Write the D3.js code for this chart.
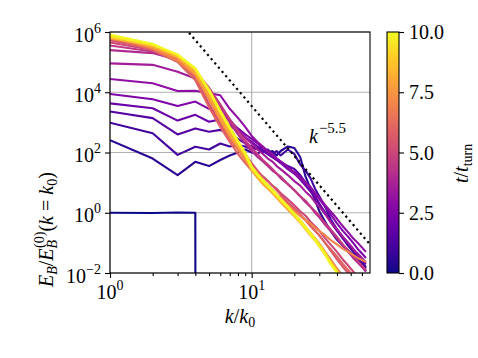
<!DOCTYPE html>
<html><head><meta charset="utf-8">
<script src="https://cdn.jsdelivr.net/npm/d3@7"></script>
<style>
body{margin:0;background:#fff;}
svg text{font-family:"Liberation Serif","DejaVu Serif",serif;}
</style></head>
<body><svg id="chart" width="478" height="358"></svg>
<script>
// wavenumbers k/k0 at which spectra are sampled
const K = [1,2,3,4,5,6,7,8,9,10,11,12,13,14,15,16,18,20,22,24,26,28,30,33,36,40,44,48,52,56,60,64];
// times t/t_turn of each spectrum
const times = [0,0.5,1,1.5,2,2.5,3,3.5,4,4.5,5,5.5,6,6.5,7,7.5,8,8.5,9,9.5,10];
// log10(E_B/E_B^(0)) per time (null = zero power)
const s00 = [0,-0.01,0.01,0,null,null,null,null,null,null,null,null,null,null,null,null,null,null,null,null,null,null,null,null,null,null,null,null,null,null,null,null];
const s05 = [2.41,1.8,1.25,1.69,1.55,1.75,1.9,2.0,2.1,2.0,1.95,2.1,2.0,2.05,1.9,2.05,2.2,2.15,1.85,1.2,0.8,0.42,0.05,-0.3,-0.6,-0.9,-1.1,-1.25,-1.4,-1.55,-1.65,-1.85];
const s10 = [2.99,2.64,1.92,2.19,2.1,2.3,2.2,2.25,2.2,2.1,2.15,2.0,2.1,1.95,2.05,1.9,2.1,1.95,1.6,1.4,1.15,0.8,0.55,0.2,-0.2,-0.55,-0.85,-1.1,-1.3,-1.5,-1.7,-1.95];
const s15 = [3.36,3.14,2.6,2.8,2.69,2.75,2.6,2.45,2.3,2.2,2.1,2.05,1.95,1.85,1.8,1.7,1.55,1.45,1.25,1.0,0.8,0.55,0.3,0.0,-0.3,-0.6,-0.85,-1.05,-1.25,-1.45,-1.6,-1.8];
const s20 = [3.63,3.47,3.06,3.25,3.02,3.1,2.9,2.7,2.5,2.35,2.2,2.1,1.95,1.85,1.75,1.65,1.45,1.3,1.1,0.9,0.7,0.5,0.3,0.0,-0.25,-0.55,-0.8,-1.0,-1.2,-1.4,-1.55,-1.7];
const s25 = [3.94,3.77,3.54,3.69,3.45,3.3,3.05,2.8,2.6,2.45,2.3,2.15,2.0,1.9,1.8,1.7,1.5,1.35,1.2,1.0,0.85,0.65,0.45,0.2,-0.05,-0.35,-0.6,-0.8,-1.0,-1.2,-1.35,-1.5];
const s30 = [4.44,4.3,4.04,4.05,3.97,3.9,3.45,3.15,2.85,2.55,2.35,2.2,2.05,1.95,1.8,1.7,1.5,1.3,1.15,1.0,0.85,0.65,0.5,0.25,0.05,-0.2,-0.45,-0.65,-0.85,-1.0,-1.15,-1.3];
const s35 = [4.96,4.91,4.68,4.46,4.0,3.5,3.1,2.75,2.5,2.3,2.1,1.95,1.8,1.7,1.55,1.45,1.25,1.05,0.9,0.7,0.55,0.35,0.2,-0.05,-0.3,-0.55,-0.8,-1.0,-1.2,-1.35,-1.5,-1.65];
const s40 = [5.4,5.3,5.07,4.75,4.1,3.5,3.0,2.6,2.3,2.05,1.85,1.7,1.55,1.4,1.3,1.15,0.95,0.75,0.55,0.35,0.2,0.0,-0.15,-0.4,-0.6,-0.85,-1.1,-1.3,-1.5,-1.65,-1.8,-1.95];
const s45 = [5.55,5.35,5.05,4.7,4.15,3.6,3.1,2.7,2.4,2.15,1.95,1.75,1.6,1.45,1.3,1.2,0.95,0.75,0.55,0.4,0.2,0.05,-0.1,-0.35,-0.55,-0.8,-1.05,-1.25,-1.45,-1.6,-1.75,-1.9];
const s50 = [5.65,5.4,5.05,4.5,3.6,2.95,2.45,2.1,1.8,1.55,1.35,1.2,1.05,0.9,0.8,0.65,0.45,0.25,0.05,-0.1,-0.3,-0.45,-0.6,-0.85,-1.05,-1.3,-1.55,-1.75,-1.95,-2.1,-2.25,-2.4];
const s55 = [5.72,5.45,5.1,4.6,3.85,3.2,2.7,2.3,1.95,1.65,1.4,1.2,1.05,0.9,0.75,0.6,0.35,0.15,-0.05,-0.25,-0.4,-0.6,-0.75,-1.0,-1.25,-1.55,-1.8,-2.0,-2.2,-2.4,-2.55,-2.7];
const s60 = [5.8,5.4,5.0,4.4,3.5,2.85,2.35,1.95,1.65,1.4,1.2,1.05,0.9,0.75,0.6,0.5,0.3,0.1,-0.1,-0.25,-0.45,-0.6,-0.75,-1.0,-1.2,-1.45,-1.7,-1.9,-2.1,-2.25,-2.4,-2.55];
const s65 = [5.78,5.5,5.15,4.65,3.9,3.2,2.65,2.25,1.9,1.45,1.2,1.0,0.85,0.7,0.55,0.4,0.15,-0.1,-0.3,-0.5,-0.68,-0.85,-1.02,-1.3,-1.55,-1.85,-2.1,-2.35,-2.55,-2.75,-2.95,-3.1];
const s70 = [5.85,5.45,5.05,4.55,3.75,3.05,2.5,2.1,1.75,1.45,1.2,1.0,0.85,0.7,0.55,0.4,0.2,0.05,-0.1,-0.25,-0.35,-0.5,-0.6,-0.75,-0.9,-1.05,-1.2,-1.3,-1.4,-1.5,-1.57,-1.63];
const s75 = [5.82,5.52,5.18,4.7,3.95,3.3,2.75,2.3,1.95,1.5,1.25,1.05,0.88,0.72,0.58,0.45,0.2,-0.05,-0.28,-0.48,-0.68,-0.85,-1.05,-1.32,-1.6,-1.9,-2.2,-2.45,-2.7,-2.9,-3.1,-3.3];
const s80 = [5.88,5.5,5.15,4.62,3.85,3.15,2.6,2.2,1.85,1.4,1.15,0.95,0.8,0.65,0.5,0.35,0.1,-0.12,-0.33,-0.55,-0.75,-0.92,-1.12,-1.4,-1.65,-1.95,-2.25,-2.5,-2.75,-2.95,-3.15,-3.35];
const s85 = [5.8,5.55,5.2,4.72,4.0,3.3,2.75,2.3,1.9,1.45,1.2,1.0,0.85,0.7,0.55,0.4,0.15,-0.1,-0.3,-0.52,-0.72,-0.9,-1.08,-1.35,-1.65,-1.95,-2.25,-2.5,-2.75,-2.95,-3.15,-3.35];
const s90 = [5.9,5.6,5.22,4.75,4.05,3.35,2.8,2.35,1.95,1.5,1.25,1.05,0.9,0.75,0.6,0.45,0.2,-0.05,-0.27,-0.48,-0.68,-0.86,-1.05,-1.33,-1.62,-1.92,-2.22,-2.48,-2.72,-2.95,-3.15,-3.35];
const s95 = [5.85,5.58,5.25,4.78,4.1,3.4,2.85,2.4,2.0,1.55,1.3,1.1,0.92,0.77,0.62,0.47,0.22,-0.03,-0.25,-0.47,-0.67,-0.87,-1.07,-1.37,-1.68,-1.98,-2.28,-2.55,-2.8,-3.0,-3.2,-3.4];
const s100 = [5.92,5.6,5.25,4.8,4.05,3.35,2.8,2.35,1.95,1.5,1.25,1.05,0.88,0.73,0.58,0.43,0.18,-0.07,-0.3,-0.52,-0.72,-0.92,-1.1,-1.4,-1.7,-2.0,-2.3,-2.55,-2.8,-3.0,-3.2,-3.4];
const spectra = [s00,s05,s10,s15,s20,s25,s30,s35,s40,s45,s50,s55,s60,s65,s70,s75,s80,s85,s90,s95,s100];
// reference power law k^-5.5
const fitK = [2, 70];
const fitAmp = 1.1e9, fitSlope = -5.5;
const yTicks = [1e-2,1e0,1e2,1e4,1e6];
const xMajor = [1,10];
const xMinor = [2,3,4,5,6,7,8,9,20,30,40,50,60];
const cbTicks = [0,2.5,5,7.5,10];

const svg = d3.select("#chart");
const L=110, R=370, T=32, B=273;
const x = d3.scaleLog().domain([1,68.4]).range([L,R]);
const y = d3.scaleLog().domain([1e-2,1e6]).range([B,T]);
const color = d3.scaleSequential(d3.interpolatePlasma).domain([0,10]);

svg.append("defs").append("clipPath").attr("id","clip")
  .append("rect").attr("x",L).attr("y",T).attr("width",R-L).attr("height",B-T);

// grid
const grid = svg.append("g").attr("stroke","#b0b0b0").attr("stroke-width",1.1);
yTicks.forEach(v=>grid.append("line").attr("x1",L).attr("x2",R).attr("y1",y(v)).attr("y2",y(v)));
xMajor.forEach(v=>grid.append("line").attr("y1",T).attr("y2",B).attr("x1",x(v)).attr("x2",x(v)));

// spectra
const line = d3.line().x(d=>x(d.k)).y(d=>y(d.e));
const gl = svg.append("g").attr("clip-path","url(#clip)");
spectra.forEach((s,i)=>{
  const pts = K.map((k,j)=>({k:k, e: s[j]===null ? 1e-300 : Math.pow(10,s[j])}));
  gl.append("path").attr("d",line(pts)).attr("fill","none")
    .attr("stroke",color(times[i])).attr("stroke-width",2.1).attr("stroke-linejoin","round");
});
// power law
const fitPts = fitK.map(k=>({k:k, e: fitAmp*Math.pow(k,fitSlope)}));
gl.append("path").attr("d",line(fitPts)).attr("fill","none").attr("stroke","#000")
  .attr("stroke-width",2.2).attr("stroke-dasharray","2.2,3.4");

// axes
const fs = 20;
const xAxis = svg.append("g").attr("transform",`translate(0,${B})`)
  .call(d3.axisBottom(x).tickValues(xMajor).tickSize(5).tickFormat(""));
svg.append("g").attr("transform",`translate(0,${B})`)
  .call(d3.axisBottom(x).tickValues(xMinor).tickSize(3).tickFormat(""))
  .call(g=>g.select(".domain").remove());
const yAxis = svg.append("g").attr("transform",`translate(${L},0)`)
  .call(d3.axisLeft(y).tickValues(yTicks).tickSize(5).tickFormat(""));
[xAxis,yAxis].forEach(g=>g.select(".domain").remove());
svg.selectAll(".tick line").attr("stroke","#000").attr("stroke-width",1.1);

// frame
svg.append("rect").attr("x",L).attr("y",T).attr("width",R-L).attr("height",B-T)
  .attr("fill","none").attr("stroke","#000").attr("stroke-width",1.1);

function powLabel(g, exp, anchorX, baseY, anchor){
  const t = g.append("text").attr("y",baseY).attr("font-size",fs).attr("fill","#000");
  t.append("tspan").text("10");
  t.append("tspan").attr("dy",-9).attr("font-size",fs*0.7).text(exp);
  const w = t.node().getComputedTextLength();
  const x0 = anchor==="middle" ? anchorX - w/2 : anchorX - w;
  t.attr("x",x0);
}
xMajor.forEach(v=>powLabel(svg, String(Math.round(Math.log10(v))), x(v), 299, "middle"));
yTicks.forEach(v=>{
  const e = Math.round(Math.log10(v));
  powLabel(svg, e<0 ? "\u2212"+(-e) : String(e), L-9, y(v)+9.5, "end");
});

// axis labels
const xl = svg.append("text").attr("x",240).attr("y",323).attr("text-anchor","middle").attr("font-size",fs);
xl.append("tspan").attr("font-style","italic").text("k");
xl.append("tspan").text("/");
xl.append("tspan").attr("font-style","italic").text("k");
xl.append("tspan").attr("font-size",fs*0.7).attr("dy",4).text("0");

const yl = svg.append("text").attr("transform","translate(53,287) rotate(-90)").attr("font-size",fs);
yl.append("tspan").attr("font-style","italic").text("E");
yl.append("tspan").attr("font-style","italic").attr("font-size",fs*0.7).attr("dy",4).text("B");
yl.append("tspan").attr("dy",-4).text("/");
yl.append("tspan").attr("font-style","italic").text("E");
yl.append("tspan").attr("font-style","italic").attr("font-size",fs*0.7).attr("dy",4).text("B");
yl.append("tspan").attr("font-size",fs*0.7).attr("dy",-13).attr("dx",-8).text("(0)");
yl.append("tspan").attr("dy",9).text("(");
yl.append("tspan").attr("font-style","italic").text("k");
yl.append("tspan").text(" = ");
yl.append("tspan").attr("font-style","italic").text("k");
yl.append("tspan").attr("font-size",fs*0.7).attr("dy",4).text("0");
yl.append("tspan").attr("dy",-4).text(")");

// power-law annotation
const pl = svg.append("text").attr("x",309).attr("y",143).attr("font-size",fs);
pl.append("tspan").attr("font-style","italic").text("k");
pl.append("tspan").attr("font-size",fs*0.75).attr("dy",-10).attr("dx",1).text("\u22125.5");

// colorbar
const cbX=387, cbW=12;
const grad = svg.select("defs").append("linearGradient").attr("id","cb")
  .attr("x1",0).attr("y1",1).attr("x2",0).attr("y2",0);
d3.range(0,1.0001,0.05).forEach(f=>grad.append("stop").attr("offset",f).attr("stop-color",d3.interpolatePlasma(f)));
const cy = d3.scaleLinear().domain([0,10]).range([B,T]);
svg.append("rect").attr("x",cbX).attr("y",T).attr("width",cbW).attr("height",B-T).attr("fill","url(#cb)")
  .attr("stroke","#000").attr("stroke-width",1.1);
const cbAxis = svg.append("g").attr("transform",`translate(${cbX+cbW},0)`)
  .call(d3.axisRight(cy).tickValues(cbTicks).tickSize(5).tickFormat(""));
cbAxis.select(".domain").remove();
cbAxis.selectAll(".tick line").attr("stroke","#000").attr("stroke-width",1.1);
cbTicks.forEach(v=>svg.append("text").attr("x",409).attr("y",cy(v)+7).attr("font-size",fs).text(d3.format(".1f")(v)));
const cl = svg.append("text").attr("transform","translate(468,183) rotate(-90)").attr("font-size",fs);
cl.append("tspan").attr("font-style","italic").text("t");
cl.append("tspan").text("/");
cl.append("tspan").attr("font-style","italic").text("t");
cl.append("tspan").attr("font-size",fs*0.7).attr("dy",4).text("turn");
</script></body></html>
